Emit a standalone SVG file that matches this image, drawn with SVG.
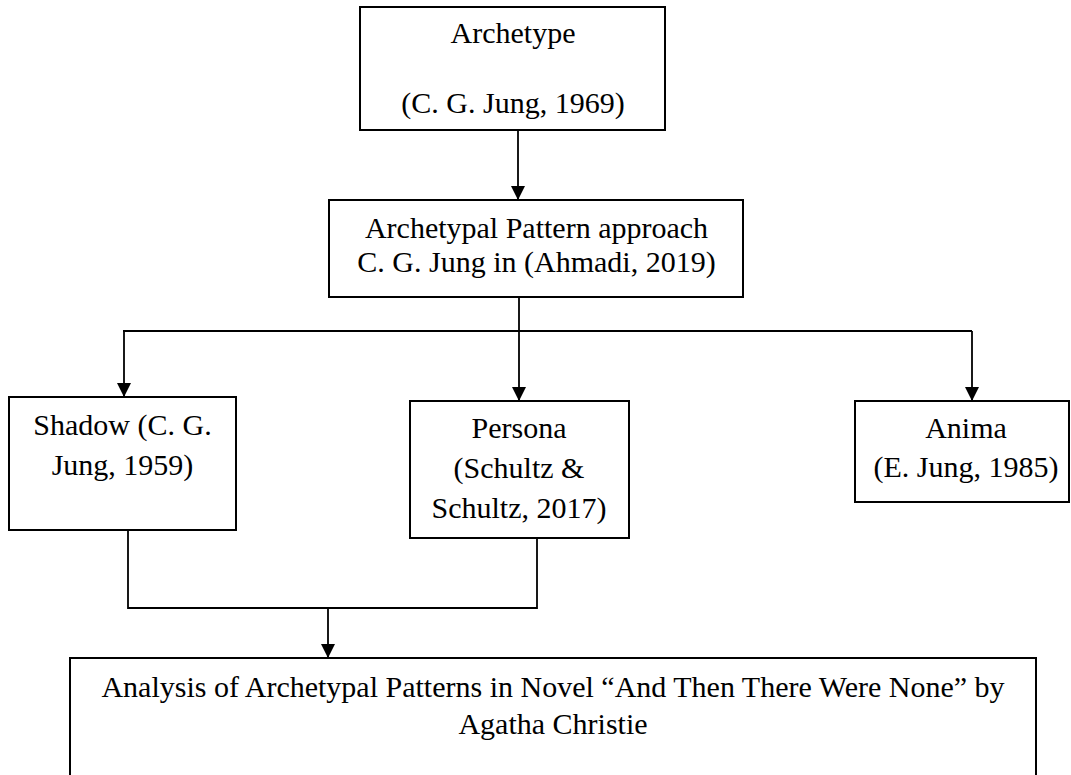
<svg xmlns="http://www.w3.org/2000/svg" width="1071" height="775" viewBox="0 0 1071 775">
<style>
.box{fill:#fff;stroke:#000;stroke-width:2}
.t{font-family:"Liberation Serif","Times New Roman",serif;font-size:30px;fill:#000;text-anchor:middle}
.c{fill:none;stroke:#000;stroke-width:1.8}
</style>
<defs>
<marker id="ah" markerUnits="userSpaceOnUse" markerWidth="15" markerHeight="14" refX="14" refY="7" orient="auto">
<path d="M0,0 L14,7 L0,14 z" fill="#000"/>
</marker>
</defs>
<rect width="1071" height="775" fill="#fff"/>
<g id="connectors">
<line class="c" x1="518" y1="130" x2="518" y2="200" marker-end="url(#ah)"/>
<polyline class="c" points="519,297 519,331"/>
<polyline class="c" points="123,331 972,331"/>
<line class="c" x1="124" y1="331" x2="124" y2="397" marker-end="url(#ah)"/>
<line class="c" x1="519" y1="331" x2="519" y2="401" marker-end="url(#ah)"/>
<line class="c" x1="972" y1="331" x2="972" y2="401" marker-end="url(#ah)"/>
<polyline class="c" points="128,530 128,608 537,608 537,538"/>
<line class="c" x1="328" y1="608" x2="328" y2="658" marker-end="url(#ah)"/>
</g>
<g id="archetype">
<rect class="box" x="360" y="7" width="305" height="123"/>
<text class="t" x="513" y="43">Archetype</text>
<text class="t" x="513" y="113">(C. G. Jung, 1969)</text>
</g>
<g id="approach">
<rect class="box" x="329" y="200" width="414" height="97"/>
<text class="t" x="536.5" y="238">Archetypal Pattern approach</text>
<text class="t" x="536.5" y="272">C. G. Jung in (Ahmadi, 2019)</text>
</g>
<g id="shadow">
<rect class="box" x="9" y="397" width="227" height="133"/>
<text class="t" x="122.5" y="435">Shadow (C. G.</text>
<text class="t" x="122.5" y="475">Jung, 1959)</text>
</g>
<g id="persona">
<rect class="box" x="410" y="401" width="219" height="137"/>
<text class="t" x="519" y="438">Persona</text>
<text class="t" x="519" y="478">(Schultz &amp;</text>
<text class="t" x="519" y="518">Schultz, 2017)</text>
</g>
<g id="anima">
<rect class="box" x="855" y="401" width="214" height="101"/>
<text class="t" x="966" y="438">Anima</text>
<text class="t" x="966" y="477">(E. Jung, 1985)</text>
</g>
<g id="analysis">
<rect class="box" x="70" y="658" width="966" height="130"/>
<text class="t" x="553" y="697">Analysis of Archetypal Patterns in Novel “And Then There Were None” by</text>
<text class="t" x="553" y="734">Agatha Christie</text>
</g>
</svg>
